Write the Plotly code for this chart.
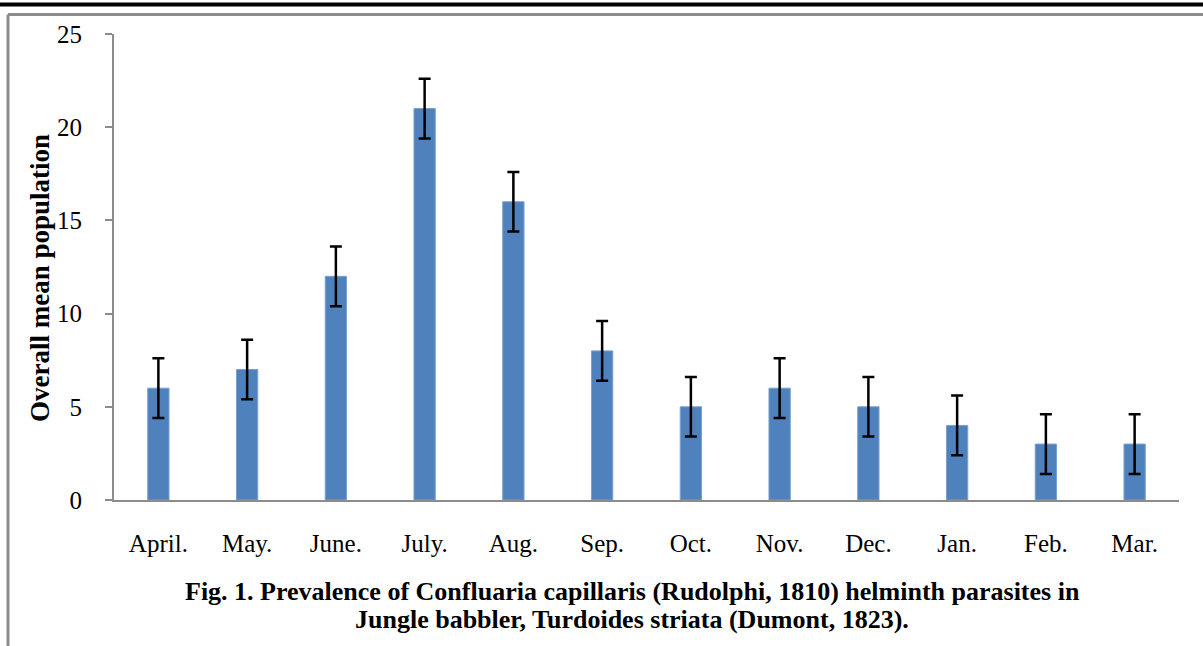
import plotly.graph_objects as go

months = ["April.", "May.", "June.", "July.", "Aug.", "Sep.", "Oct.", "Nov.", "Dec.", "Jan.", "Feb.", "Mar."]
mean_population = [6, 7, 12, 21, 16, 8, 5, 6, 5, 4, 3, 3]
error_values = [1.6] * 12
y_ticks = [0, 5, 10, 15, 20, 25]

W, H = 1203, 646
L, R, T, B = 114, 24, 34, 146
PW, PH = W - L - R, H - T - B

def px_x(x):
    return (x - L) / PW

def px_y(y):
    return (H - B - y) / PH

fig = go.Figure()
fig.add_trace(go.Bar(
    x=months, y=mean_population, width=0.24,
    marker=dict(color="#4F81BD", line=dict(color="#7BA0CD", width=1)),
    error_y=dict(type="data", array=error_values, visible=True,
                 color="black", thickness=2.5, width=6),
))

font_family = "Liberation Serif, Times New Roman, serif"
fig.update_layout(
    width=W, height=H,
    margin=dict(l=L, r=R, t=T, b=B),
    paper_bgcolor="white", plot_bgcolor="white",
    showlegend=False,
    font=dict(family=font_family, size=25, color="black"),
)
fig.update_xaxes(
    showline=True, linecolor="#8C8C8C", linewidth=2,
    showgrid=False, ticks="", ticklabelstandoff=20,
    tickfont=dict(family=font_family, size=25, color="black"),
)
fig.update_yaxes(
    range=[0, 25], tickvals=y_ticks,
    showline=True, linecolor="#8C8C8C", linewidth=2,
    showgrid=False, ticks="outside", ticklen=7, tickcolor="#8C8C8C", tickwidth=2,
    ticklabelstandoff=18, zeroline=False,
    tickfont=dict(family=font_family, size=25, color="black"),
)

# y axis title
fig.add_annotation(
    text="<b>Overall mean population</b>", textangle=-90,
    xref="paper", yref="paper", x=px_x(40), y=px_y(278), xanchor="center", yanchor="middle",
    showarrow=False, font=dict(family=font_family, size=27, color="black"),
)
# caption
cap_font = dict(family=font_family, size=26, color="black")
fig.add_annotation(
    text="<b>Fig. 1. Prevalence of Confluaria capillaris (Rudolphi, 1810) helminth parasites in</b>",
    xref="paper", yref="paper", x=px_x(632), y=px_y(591), xanchor="center", yanchor="middle",
    showarrow=False, font=cap_font,
)
fig.add_annotation(
    text="<b>Jungle babbler, Turdoides striata (Dumont, 1823).</b>",
    xref="paper", yref="paper", x=px_x(632), y=px_y(620), xanchor="center", yanchor="middle",
    showarrow=False, font=cap_font,
)

# decorative page lines
fig.add_shape(type="line", xref="paper", yref="paper",
              x0=px_x(-5), x1=px_x(W + 5), y0=px_y(4.5), y1=px_y(4.5),
              line=dict(color="black", width=4))
fig.add_shape(type="line", xref="paper", yref="paper",
              x0=px_x(8), x1=px_x(W + 5), y0=px_y(14.5), y1=px_y(14.5),
              line=dict(color="#8C8C8C", width=3))
fig.add_shape(type="line", xref="paper", yref="paper",
              x0=px_x(8), x1=px_x(8), y0=px_y(14.5), y1=px_y(H + 5),
              line=dict(color="#8C8C8C", width=3))

fig.write_html("out.html", config={"displayModeBar": False},
               post_script="document.body.style.margin='0';document.body.style.overflow='hidden';")
